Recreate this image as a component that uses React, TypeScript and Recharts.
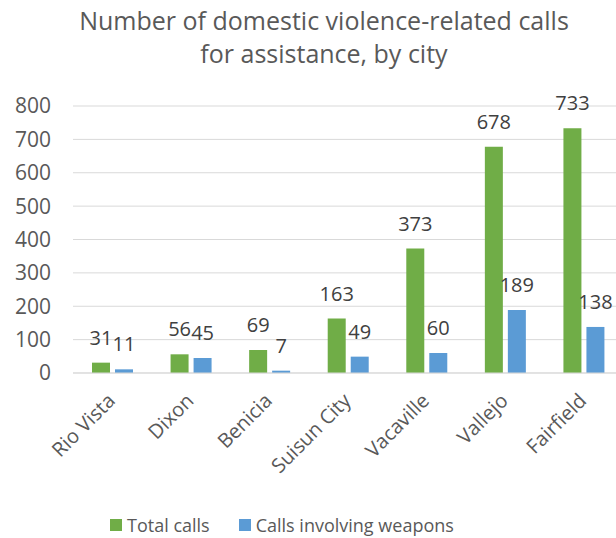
import { BarChart, Bar, XAxis, YAxis, CartesianGrid, Legend, LabelList } from 'recharts';

// cities along the x axis
const cities = ['Rio Vista', 'Dixon', 'Benicia', 'Suisun City', 'Vacaville', 'Vallejo', 'Fairfield'];
const totalCalls = [31, 56, 69, 163, 373, 678, 733];
const weaponCalls = [11, 45, 7, 49, 60, 189, 138];
const yTicks = [0, 100, 200, 300, 400, 500, 600, 700, 800];

const GREEN = '#70AD47';
const BLUE = '#5B9BD5';
const TEXT = '#595959';
const FONT = '"Open Sans", sans-serif';

const data = cities.map((city, i) => ({
  city,
  total: totalCalls[i],
  weapons: weaponCalls[i],
}));

function CityTick({ x, y, payload }: any) {
  const tx = x + 4;
  const ty = y + 29;
  return (
    <text
      x={tx}
      y={ty}
      textAnchor="end"
      transform={`rotate(-45, ${tx}, ${ty})`}
      fill={TEXT}
      fontSize={20}
      fontFamily={FONT}
    >
      {payload.value}
    </text>
  );
}

function LegendBox() {
  const items = [
    { label: 'Total calls', color: GREEN },
    { label: 'Calls involving weapons', color: BLUE },
  ];
  return (
    <div style={{ display: 'flex', alignItems: 'center', paddingLeft: 110, height: 26 }}>
      {items.map((it, i) => (
        <div key={it.label} style={{ display: 'flex', alignItems: 'center', marginRight: i === 0 ? 29 : 0 }}>
          <span style={{ width: 12, height: 12, background: it.color, display: 'inline-block', marginRight: 5 }} />
          <span style={{ fontFamily: FONT, fontSize: 18, color: TEXT, lineHeight: '26px' }}>{it.label}</span>
        </div>
      ))}
    </div>
  );
}

export default function App() {
  return (
    <div style={{ position: 'absolute', left: 0, top: 0, width: 616, height: 538, overflow: 'hidden', background: '#fff' }}>
      <div
        style={{
          position: 'absolute',
          left: 74,
          width: 500,
          top: 4,
          textAlign: 'center',
          fontFamily: FONT,
          fontSize: 25,
          lineHeight: '33px',
          color: TEXT,
          whiteSpace: 'nowrap',
        }}
      >
        <div>Number of domestic violence-related calls</div>
        <div>for assistance, by city</div>
      </div>
      <BarChart
        width={624}
        height={538}
        data={data}
        margin={{ top: 106, right: 1, left: 0, bottom: 0 }}
        barCategoryGap={19}
        barGap={5}
      >
        <CartesianGrid vertical={false} stroke="#d9d9d9" strokeWidth={1} />
        <XAxis
          dataKey="city"
          interval={0}
          height={139}
          tickLine={false}
          tickSize={0}
          tickMargin={0}
          axisLine={{ stroke: '#d9d9d9' }}
          tick={<CityTick />}
        />
        <YAxis
          width={73}
          domain={[0, 800]}
          ticks={yTicks}
          axisLine={false}
          tickLine={false}
          tickSize={0}
          tickMargin={22}
          tick={{ fill: TEXT, fontSize: 21, fontFamily: FONT }}
        />
        <Legend verticalAlign="bottom" align="left" height={26} content={<LegendBox />} />
        <Bar dataKey="total" name="Total calls" fill={GREEN} isAnimationActive={false}>
          <LabelList dataKey="total" position="top" offset={18} fill="#404040" fontSize={20} fontFamily={FONT} />
        </Bar>
        <Bar dataKey="weapons" name="Calls involving weapons" fill={BLUE} isAnimationActive={false}>
          <LabelList dataKey="weapons" position="top" offset={18} fill="#404040" fontSize={20} fontFamily={FONT} />
        </Bar>
      </BarChart>
    </div>
  );
}
